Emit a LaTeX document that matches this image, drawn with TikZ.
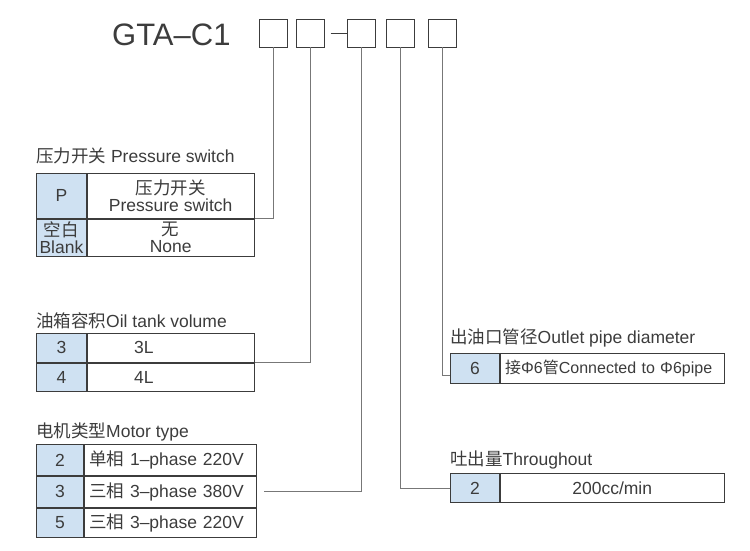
\documentclass[tikz,border=0pt]{standalone}
\usepackage{fontspec}
\setmainfont{Liberation Sans}
\newfontfamily\cjk{Noto Sans CJK SC}
\usetikzlibrary{positioning}

\definecolor{ink}{HTML}{3C3C3C}
\definecolor{keyblue}{HTML}{CFE1F2}
\definecolor{wiregray}{HTML}{777777}

\newcommand\zh[1]{{\cjk #1}}

\tikzset{
  codebox/.style={draw=ink, line width=0.8pt, minimum width=28pt, minimum height=28pt, inner sep=0pt},
  cell/.style={draw=ink, line width=0.8pt, inner sep=0pt, align=center,
    font=\fontsize{17.5}{17}\selectfont},
  keycell/.style={cell, fill=keyblue, anchor=north west},
  valcell/.style={cell, fill=white},
  caption/.style={anchor=base west, inner sep=0pt, font=\fontsize{17.5}{18}\selectfont},
  wire/.style={draw=wiregray, line width=0.8pt},
}

\begin{document}
\begin{tikzpicture}[x=1pt, y=-1pt, every node/.style={text=ink}]
  \useasboundingbox (0,0) rectangle (750,551);

  % model code
  \node[anchor=base west, inner sep=0pt, font=\fontsize{31}{31}\selectfont] (model) at (112,46) {GTA–C1};
  \foreach \x [count=\i] in {273,310,361,400,442}
    \node[codebox] (b\i) at (\x,33) {};
  \draw[line width=0.8pt, draw=ink] ([xshift=-16pt]b3.west) -- (b3.west);

  % pressure switch
  \node[caption] (ps-title) at (36,162) {\zh{压力开关} Pressure switch};
  \node[keycell, minimum width=50pt, minimum height=45pt] (ps-k1) at (36,173) {P};
  \node[valcell, minimum width=167pt, minimum height=45pt, right=0pt of ps-k1] (ps-v1) {\zh{压力开关}\\Pressure switch};
  \node[keycell, minimum width=50pt, minimum height=37pt, below=0pt of ps-k1] (ps-k2) {\zh{空白}\\Blank};
  \node[valcell, minimum width=167pt, minimum height=37pt, right=0pt of ps-k2] (ps-v2) {\zh{无}\\None};

  % oil tank volume
  \node[caption] (tv-title) at (36,327) {\zh{油箱容积}Oil tank volume};
  \node[keycell, minimum width=50pt, minimum height=29pt] (tv-k1) at (36,333) {3};
  \node[valcell, minimum height=29pt, text width=73pt, inner xsep=47pt, align=left, right=0pt of tv-k1] (tv-v1) {3L};
  \node[keycell, minimum width=50pt, minimum height=28pt, below=0pt of tv-k1] (tv-k2) {4};
  \node[valcell, minimum height=28pt, text width=73pt, inner xsep=47pt, align=left, right=0pt of tv-k2] (tv-v2) {4L};

  % motor type
  \node[caption] (mt-title) at (36,437) {\zh{电机类型}Motor type};
  \node[keycell, minimum width=47pt, minimum height=31pt] (mt-k1) at (36,444) {2};
  \node[valcell, minimum height=31pt, text width=162pt, inner xsep=5pt, align=left, right=0pt of mt-k1] (mt-v1) {\zh{单相} 1–phase 220V};
  \node[keycell, minimum width=47pt, minimum height=31pt, below=0pt of mt-k1] (mt-k2) {3};
  \node[valcell, minimum height=31pt, text width=162pt, inner xsep=5pt, align=left, right=0pt of mt-k2] (mt-v2) {\zh{三相} 3–phase 380V};
  \node[keycell, minimum width=47pt, minimum height=29pt, below=0pt of mt-k2] (mt-k3) {5};
  \node[valcell, minimum height=29pt, text width=162pt, inner xsep=5pt, align=left, right=0pt of mt-k3] (mt-v3) {\zh{三相} 3–phase 220V};

  % outlet pipe diameter
  \node[caption] (op-title) at (450,343) {\zh{出油口管径}Outlet pipe diameter};
  \node[keycell, minimum width=49pt, minimum height=30pt] (op-k1) at (450,353) {6};
  \node[valcell, minimum height=30pt, text width=214pt, inner xsep=5pt, align=left, right=0pt of op-k1,
    font=\fontsize{16}{16}\selectfont] (op-v1) {\zh{接}Φ6\zh{管}Connected to Φ6pipe};

  % throughout
  \node[caption] (tp-title) at (450,465) {\zh{吐出量}Throughout};
  \node[keycell, minimum width=49pt, minimum height=29pt] (tp-k1) at (450,473) {2};
  \node[valcell, minimum width=224pt, minimum height=29pt, right=0pt of tp-k1] (tp-v1) {200cc/min};

  % leaders
  \draw[wire] (b1.south) |- (ps-v1.south east);
  \draw[wire] (b2.south) |- (tv-v1.south east);
  \draw[wire] (b3.south) |- ([xshift=7pt]mt-v2.east);
  \draw[wire] (b4.south) |- (tp-k1.west);
  \draw[wire] (b5.south) |- ([yshift=-7pt]op-k1.west);
\end{tikzpicture}
\end{document}
